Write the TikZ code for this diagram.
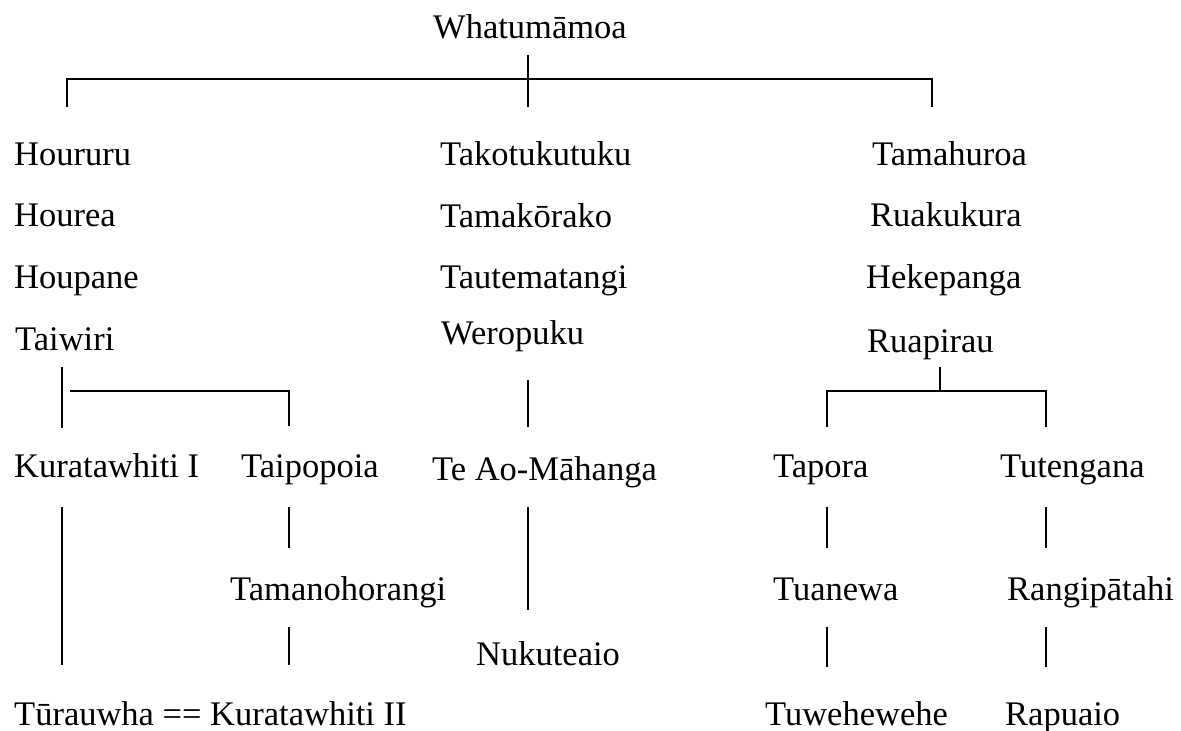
\documentclass[tikz,border=0pt]{standalone}
\usepackage{fontspec}
\setmainfont{Liberation Serif}
\begin{document}
\begin{tikzpicture}[x=1pt,y=-1pt,
  person/.style={anchor=base west,inner sep=0pt,font=\fontsize{34.5}{40}\selectfont},
  link/.style={line width=1.6pt,line cap=butt}]
\useasboundingbox (0,0) rectangle (1181,731);

% names, placed by baseline
\node[person] (whatu) at (433,38) {Whatumāmoa};

\node[person] (houruru) at (14,165) {Houruru};
\node[person] (hourea)  at (14,226) {Hourea};
\node[person] (houpane) at (14,288) {Houpane};
\node[person] (taiwiri) at (15,350) {Taiwiri};

\node[person] (tako)  at (440,165) {Takotukutuku};
\node[person] (tamak) at (440,227) {Tamakōrako};
\node[person] (taute) at (440,288) {Tautematangi};
\node[person] (wero)  at (441,344) {Weropuku};

\node[person] (tamah) at (872,165) {Tamahuroa};
\node[person] (ruak)  at (870,226) {Ruakukura};
\node[person] (heke)  at (866,288) {Hekepanga};
\node[person] (ruap)  at (867,352) {Ruapirau};

\node[person] (kura1) at (14,477)  {Kuratawhiti I};
\node[person] (taipo) at (241,477) {Taipopoia};
\node[person] (teao)  at (432,480) {Te Ao-Māhanga};
\node[person] (tapora) at (773,477) {Tapora};
\node[person] (tuteng) at (1000,477) {Tutengana};

\node[person] (taman) at (230,600)  {Tamanohorangi};
\node[person] (nuku)  at (476,665)  {Nukuteaio};
\node[person] (tuan)  at (773,600)  {Tuanewa};
\node[person] (rangi) at (1007,600) {Rangipātahi};

\node[person] (tura)  at (14,725)   {Tūrauwha == Kuratawhiti II};
\node[person] (tuwe)  at (765,725)  {Tuwehewehe};
\node[person] (rapu)  at (1005,725) {Rapuaio};

% junction points of the connectors
\coordinate (wTop) at (528,55);
\coordinate (wBar) at (528,79);
\coordinate (wMid) at (528,107);
\coordinate (wL)   at (67,79);
\coordinate (wLd)  at (67,107);
\coordinate (wR)   at (932,79);
\coordinate (wRd)  at (932,107);

\coordinate (tTop) at (62,367);
\coordinate (tBot) at (62,428);
\coordinate (tBarL) at (70,391);
\coordinate (tBarR) at (289,391);
\coordinate (tDrop) at (289,426);

\coordinate (mA) at (528,380);
\coordinate (mB) at (528,427);
\coordinate (mC) at (528,507);
\coordinate (mD) at (528,610);

\coordinate (kA) at (62,507);
\coordinate (kB) at (62,665);
\coordinate (pA) at (289,507);
\coordinate (pB) at (289,548);
\coordinate (pC) at (289,627);
\coordinate (pD) at (289,665);

\coordinate (rTop) at (940,367);
\coordinate (rBar) at (940,391);
\coordinate (rL)  at (827,391);
\coordinate (rLd) at (827,427);
\coordinate (rR)  at (1046,391);
\coordinate (rRd) at (1046,427);

\coordinate (aA) at (827,507);
\coordinate (aB) at (827,548);
\coordinate (aC) at (827,627);
\coordinate (aD) at (827,667);
\coordinate (bA) at (1046,507);
\coordinate (bB) at (1046,548);
\coordinate (bC) at (1046,627);
\coordinate (bD) at (1046,667);

% Whatumāmoa and his three sons
\draw[link] (wTop) -- (wMid);
\draw[link] (wLd) -- (wL) -- (wR) -- (wRd);

% Taiwiri line
\draw[link] (tTop) -- (tBot);
\draw[link] (tBarL) -- (tBarR) -- (tDrop);
\draw[link] (kA) -- (kB);
\draw[link] (pA) -- (pB);
\draw[link] (pC) -- (pD);

% Weropuku line
\draw[link] (mA) -- (mB);
\draw[link] (mC) -- (mD);

% Ruapirau line
\draw[link] (rTop) -- (rBar);
\draw[link] (rLd) -- (rL) -- (rR) -- (rRd);
\draw[link] (aA) -- (aB);
\draw[link] (aC) -- (aD);
\draw[link] (bA) -- (bB);
\draw[link] (bC) -- (bD);
\end{tikzpicture}
\end{document}
